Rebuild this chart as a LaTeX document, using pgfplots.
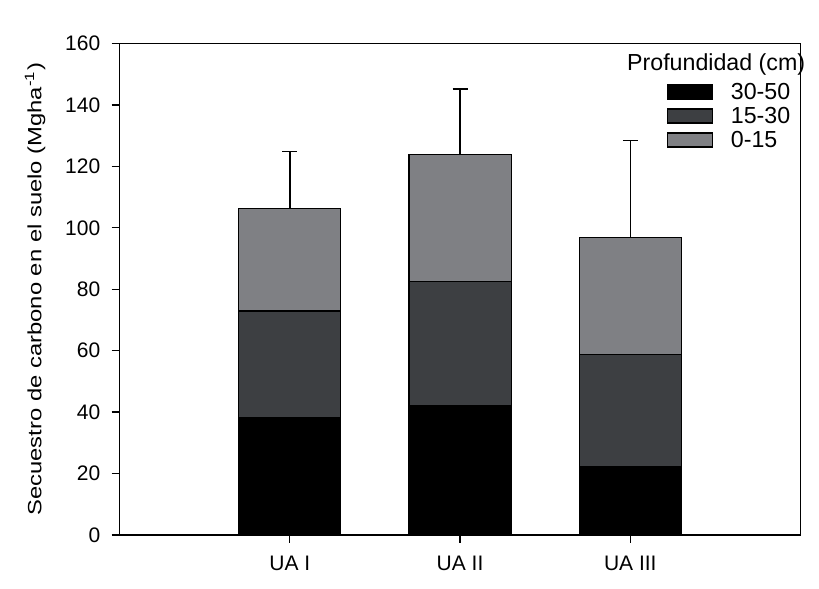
\documentclass[border=0pt]{standalone}
\usepackage{pgfplots}
\pgfplotsset{compat=1.18}
\usepackage{fontspec}
\setmainfont{Liberation Sans}
\newfontfamily\ylabfont{Liberation Sans}[FakeStretch=1.24]
\definecolor{cdark}{RGB}{61,63,66}
\definecolor{clight}{RGB}{127,128,132}
\begin{document}
\fontsize{10.5}{12.5}\selectfont
\begin{tikzpicture}
\pgfplotsset{myax/.style={scale only axis, width=340.5pt, height=245.7pt,
  xmin=0, xmax=4, ymin=0, ymax=160}}
\begin{axis}[myax, ybar stacked, bar width=0.6,
  axis line style={line width=0.6pt},
  xtick={1,2,3}, xticklabels={UA I, UA II, UA III},
  ytick={0,20,...,160},
  tick align=outside, tick pos=left, major tick length=4pt,
  tick style={black, line width=0.6pt},
  /pgf/number format/assume math mode=true,
  yticklabel style={xshift=-2pt},
  xticklabel style={yshift=-3pt},
  ylabel={\ylabfont\fontsize{9.6}{11}\selectfont Secuestro de carbono en el suelo (Mgha\textsuperscript{-1})},
  ylabel style={at={(axis description cs:-0.1242,0.5)}, anchor=center},
  every axis plot post/.append style={legend image code/.code={
    \draw[##1, line width=0.6pt] (0pt,-3.5pt) rectangle (22.5pt,3.5pt);
    \path (31.5pt,0pt);}},
  legend cell align=left,
  legend style={draw=none, fill=none, at={(rel axis cs:0.803,1)}, anchor=north west,
    xshift=-3pt, yshift=-18pt, row sep=4pt, font=\fontsize{11.6}{13}\selectfont,
    nodes={inner sep=0pt, text height=8pt, text depth=0pt}},
]
\addplot[fill=black, draw=black, line width=0.6pt] coordinates {(1,38.3) (2,42.0) (3,22.3)};
\addlegendentry{30-50}
\addplot[fill=cdark, draw=black, line width=0.6pt] coordinates {(1,34.6) (2,40.4) (3,36.4)};
\addlegendentry{15-30}
\addplot[fill=clight, draw=black, line width=0.6pt] coordinates {(1,33.5) (2,41.6) (3,38.1)};
\addlegendentry{0-15}
\end{axis}
\begin{axis}[myax, hide axis]
\addplot[draw=none, mark=none, error bars/.cd, y dir=plus, y explicit,
  error bar style={line width=0.75pt, black},
  error mark options={rotate=90, mark size=3.75pt, line width=0.75pt, black}]
  coordinates {(1,106.4) +- (0,18.4) (2,124.0) +- (0,21.2) (3,96.8) +- (0,31.6)};
\end{axis}
\node[anchor=east, inner sep=0pt, font=\fontsize{11.6}{13}\selectfont] at ([xshift=2.5pt, yshift=-10.7pt]current axis.north east) {Profundidad (cm)};
\path ([shift={(-59.8pt,-27pt)}]current axis.south west) rectangle ([shift={(9.25pt,21.8pt)}]current axis.north east);
\end{tikzpicture}
\end{document}
